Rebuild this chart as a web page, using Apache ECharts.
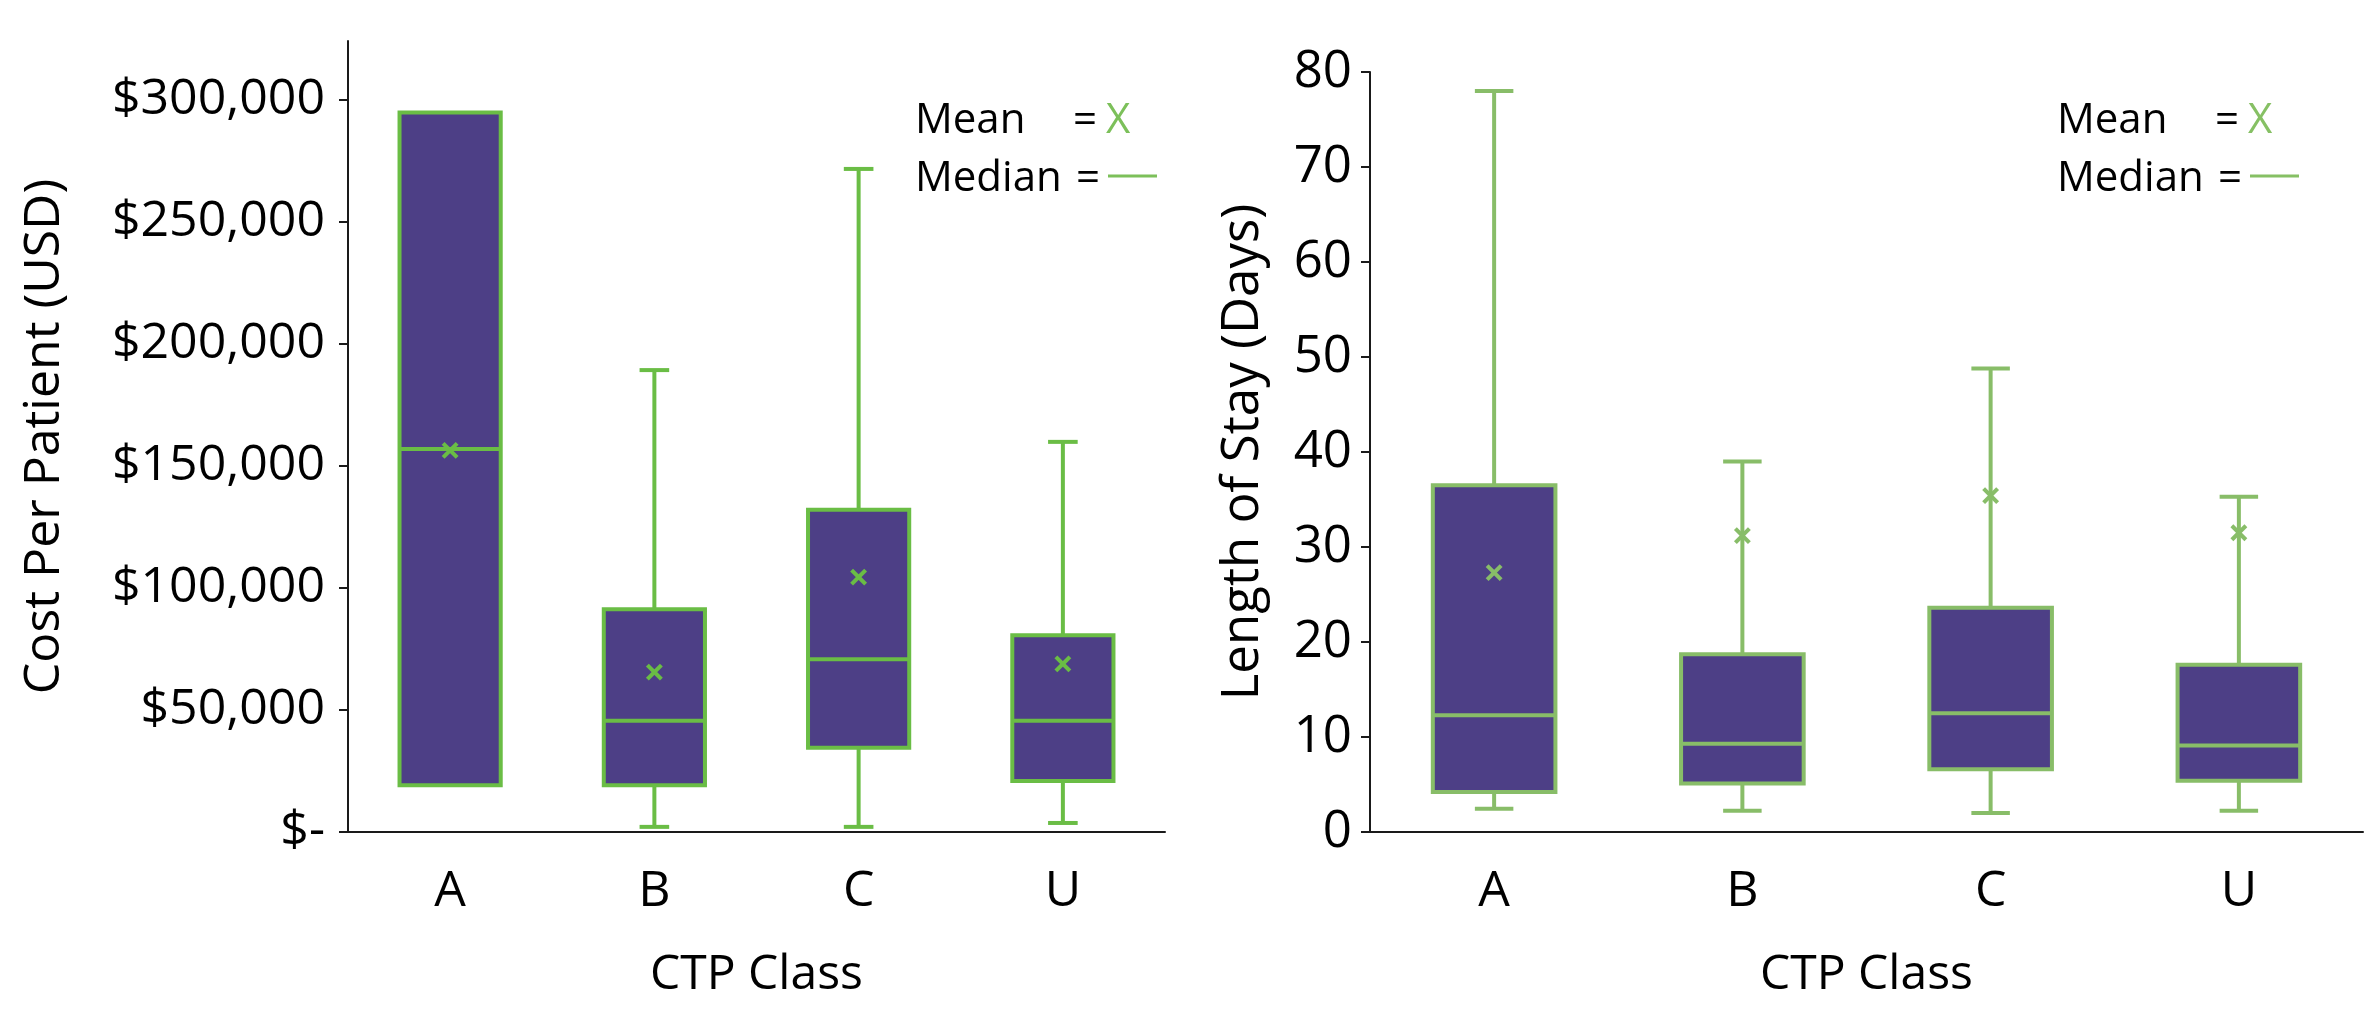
<!DOCTYPE html>
<html>
<head>
<meta charset="utf-8">
<script src="https://cdn.jsdelivr.net/npm/echarts@6/dist/echarts.min.js"></script>
<style>
html,body{margin:0;padding:0;background:#fff;}
#main{width:2365px;height:1014px;}
</style>
</head>
<body>
<div id="main"></div>
<script>
// ---- data ----
var categories = ['A', 'B', 'C', 'U'];

var costMin    = [19100, 2100, 2100, 3700];
var costQ1     = [19100, 19100, 34500, 20900];
var costMedian = [156900, 45600, 70800, 45600];
var costQ3     = [294700, 91200, 132000, 80600];
var costMax    = [294700, 189200, 271600, 159800];
var costMean   = [156300, 65500, 104400, 68900];

var losMin    = [2.45, 2.25, 2.0, 2.25];
var losQ1     = [4.2, 5.1, 6.6, 5.4];
var losMedian = [12.3, 9.3, 12.5, 9.1];
var losQ3     = [36.5, 18.7, 23.6, 17.6];
var losMax    = [78.0, 39.0, 48.8, 35.3];
var losMean   = [27.3, 31.2, 35.4, 31.5];

var costTicks = [0, 50000, 100000, 150000, 200000, 250000, 300000];
var losTicks  = [0, 10, 20, 30, 40, 50, 60, 70, 80];

// ---- styles ----
var FONT = '"Open Sans", "Noto Sans", sans-serif';
var FILL = '#4d3f86';
var GREEN_L = '#6abd45';
var GREEN_R = '#88bd68';

function rows(mn, q1, md, q3, mx, mean) {
  return categories.map(function (c, i) {
    return [i, mn[i], q1[i], md[i], q3[i], mx[i], mean[i]];
  });
}

function makeRender(stroke, boxFrac, capFrac, lw) {
  return function (params, api) {
    var x = api.value(0);
    var band = api.size([1, 0])[0];
    var bw = band * boxFrac - lw;
    var cw = band * capFrac;
    var pMin = api.coord([x, api.value(1)]);
    var pQ1 = api.coord([x, api.value(2)]);
    var pMd = api.coord([x, api.value(3)]);
    var pQ3 = api.coord([x, api.value(4)]);
    var pMax = api.coord([x, api.value(5)]);
    var pMean = api.coord([x, api.value(6)]);
    var cx = pMd[0];
    var ls = { stroke: stroke, lineWidth: lw };
    var ch = [];
    if (api.value(5) > api.value(4)) {
      ch.push({ type: 'line', shape: { x1: cx, y1: pQ3[1], x2: cx, y2: pMax[1] }, style: ls });
      ch.push({ type: 'line', shape: { x1: cx - cw / 2, y1: pMax[1], x2: cx + cw / 2, y2: pMax[1] }, style: ls });
    }
    if (api.value(1) < api.value(2)) {
      ch.push({ type: 'line', shape: { x1: cx, y1: pQ1[1], x2: cx, y2: pMin[1] }, style: ls });
      ch.push({ type: 'line', shape: { x1: cx - cw / 2, y1: pMin[1], x2: cx + cw / 2, y2: pMin[1] }, style: ls });
    }
    ch.push({ type: 'rect', shape: { x: cx - bw / 2, y: pQ3[1], width: bw, height: pQ1[1] - pQ3[1] },
      style: { fill: FILL, stroke: stroke, lineWidth: lw } });
    ch.push({ type: 'line', shape: { x1: cx - bw / 2, y1: pMd[1], x2: cx + bw / 2, y2: pMd[1] }, style: ls });
    var s = 7;
    ch.push({ type: 'line', shape: { x1: pMean[0] - s, y1: pMean[1] - s, x2: pMean[0] + s, y2: pMean[1] + s }, style: { stroke: stroke, lineWidth: 4 } });
    ch.push({ type: 'line', shape: { x1: pMean[0] - s, y1: pMean[1] + s, x2: pMean[0] + s, y2: pMean[1] - s }, style: { stroke: stroke, lineWidth: 4 } });
    return { type: 'group', children: ch };
  };
}

function fmtCost(v) {
  if (v === 0) return '$-';
  return '$' + v.toLocaleString('en-US');
}

var axisLineStyle = { lineStyle: { color: '#1a1a1a', width: 2 } };

function legend(x0, col) {
  return [
    { type: 'text', x: x0, y: 121, style: { text: 'Mean', font: '42px ' + FONT, fill: '#000', verticalAlign: 'middle' } },
    { type: 'text', x: x0 + 158, y: 121, style: { text: '=', font: '42px ' + FONT, fill: '#000', verticalAlign: 'middle' } },
    { type: 'text', x: x0 + 191, y: 121, style: { text: 'X', font: '42px ' + FONT, fill: col, verticalAlign: 'middle' } },
    { type: 'text', x: x0, y: 179, style: { text: 'Median', font: '42px ' + FONT, fill: '#000', verticalAlign: 'middle' } },
    { type: 'text', x: x0 + 161, y: 179, style: { text: '=', font: '42px ' + FONT, fill: '#000', verticalAlign: 'middle' } },
    { type: 'line', shape: { x1: x0 + 193, y1: 176, x2: x0 + 242, y2: 176 }, style: { stroke: col, lineWidth: 3 } }
  ];
}

var chart = echarts.init(document.getElementById('main'));
chart.setOption({
  backgroundColor: '#fff',
  animation: false,
  grid: [
    { left: 348, top: 41, width: 817, height: 791 },
    { left: 1370, top: 72, width: 993, height: 760 }
  ],
  xAxis: [
    { type: 'category', gridIndex: 0, data: categories, boundaryGap: true,
      axisLine: axisLineStyle, axisTick: { show: false },
      axisLabel: { margin: 35, fontSize: 50, fontFamily: FONT, color: '#000' },
      name: 'CTP Class', nameLocation: 'middle', nameGap: 119,
      nameTextStyle: { fontSize: 48, fontFamily: FONT, color: '#000' } },
    { type: 'category', gridIndex: 1, data: categories, boundaryGap: true,
      axisLine: axisLineStyle, axisTick: { show: false },
      axisLabel: { margin: 35, fontSize: 50, fontFamily: FONT, color: '#000' },
      name: 'CTP Class', nameLocation: 'middle', nameGap: 119,
      nameTextStyle: { fontSize: 48, fontFamily: FONT, color: '#000' } }
  ],
  yAxis: [
    { type: 'value', gridIndex: 0, min: 0, max: 324000,
      axisLine: { show: true, lineStyle: { color: '#1a1a1a', width: 2 } },
      axisTick: { show: true, length: 9, customValues: costTicks, lineStyle: { color: '#1a1a1a', width: 2 } },
      axisLabel: { customValues: costTicks, margin: 23, fontSize: 50, fontFamily: FONT, color: '#000', formatter: fmtCost },
      splitLine: { show: false },
      name: 'Cost Per Patient (USD)', nameLocation: 'middle', nameGap: 278,
      nameTextStyle: { fontSize: 50, fontFamily: FONT, color: '#000' } },
    { type: 'value', gridIndex: 1, min: 0, max: 80, interval: 10,
      axisLine: { show: true, lineStyle: { color: '#1a1a1a', width: 2 } },
      axisTick: { show: true, length: 9, customValues: losTicks, lineStyle: { color: '#1a1a1a', width: 2 } },
      axisLabel: { customValues: losTicks, margin: 18, fontSize: 51, fontFamily: FONT, color: '#000' },
      splitLine: { show: false },
      name: 'Length of Stay (Days)', nameLocation: 'middle', nameGap: 101,
      nameTextStyle: { fontSize: 51, fontFamily: FONT, color: '#000' } }
  ],
  series: [
    { type: 'custom', xAxisIndex: 0, yAxisIndex: 0,
      data: rows(costMin, costQ1, costMedian, costQ3, costMax, costMean),
      encode: { x: 0, y: [1, 2, 3, 4, 5, 6] },
      renderItem: makeRender(GREEN_L, 0.515, 0.145, 4) },
    { type: 'custom', xAxisIndex: 1, yAxisIndex: 1,
      data: rows(losMin, losQ1, losMedian, losQ3, losMax, losMean),
      encode: { x: 0, y: [1, 2, 3, 4, 5, 6] },
      renderItem: makeRender(GREEN_R, 0.51, 0.155, 4) }
  ],
  graphic: legend(915, '#7cc05a').concat(legend(2057, '#86c064'))
});
</script>
</body>
</html>
